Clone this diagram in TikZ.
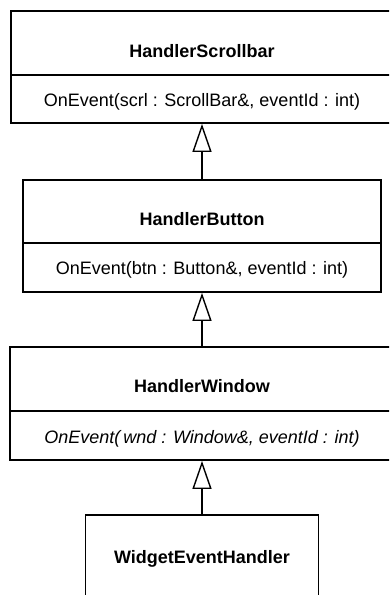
\documentclass[tikz,border=0pt]{standalone}
\usepackage{fontspec}
\setmainfont{Liberation Sans}
\usetikzlibrary{arrows.meta}
\begin{document}
\begin{tikzpicture}[x=1pt,y=-1pt,
  classbox/.style={draw, line width=1.8pt, inner sep=0pt},
  divider/.style={line width=1.6pt},
  titletext/.style={font=\fontsize{18}{20}\selectfont\bfseries, anchor=base, inner sep=0pt},
  methodtext/.style={font=\fontsize{18}{20}\selectfont, anchor=base, inner sep=0pt},
  inherit/.style={line width=1.4pt, -{Triangle[open, length=28pt, width=19pt]}}
]
\useasboundingbox (0,0) rectangle (389,595);
\clip (0,0) rectangle (389,595);
% HandlerScrollbar
\node[classbox, minimum width=400pt, minimum height=112pt] (hs) at (211,67) {};
\draw[divider] (hs.west |- 0,75) -- (hs.east |- 0,75);
\node[titletext] (hsname) at (202,57) {HandlerScrollbar};
\node[methodtext] (hsop) at (202,106) {OnEvent(scrl : ScrollBar\&, eventId : int)};
% HandlerButton
\node[classbox, minimum width=358pt, minimum height=112pt] (hb) at (202,236) {};
\draw[divider] (hb.west |- 0,243) -- (hb.east |- 0,243);
\node[titletext] (hbname) at (202,225) {HandlerButton};
\node[methodtext] (hbop) at (202,274) {OnEvent(btn : Button\&, eventId : int)};
% HandlerWindow
\node[classbox, minimum width=400pt, minimum height=113pt] (hw) at (210,403.5) {};
\draw[divider] (hw.west |- 0,411) -- (hw.east |- 0,411);
\node[titletext] (hwname) at (202,392) {HandlerWindow};
\node[methodtext, font=\fontsize{18}{20}\selectfont\itshape] (hwop) at (202,443) {OnEvent(\,wnd : Window\&, eventId : int)};
% WidgetEventHandler
\node[classbox, minimum width=233pt, minimum height=100pt] (weh) at (202,565) {};
\node[titletext] (wehname) at (202,563) {WidgetEventHandler};
% inheritance
\draw[inherit] (hb.north) -- (hs.south -| hb.north);
\draw[inherit] (hw.north -| hb.south) -- (hb.south);
\draw[inherit] (weh.north) -- (hw.south -| weh.north);
\end{tikzpicture}
\end{document}
